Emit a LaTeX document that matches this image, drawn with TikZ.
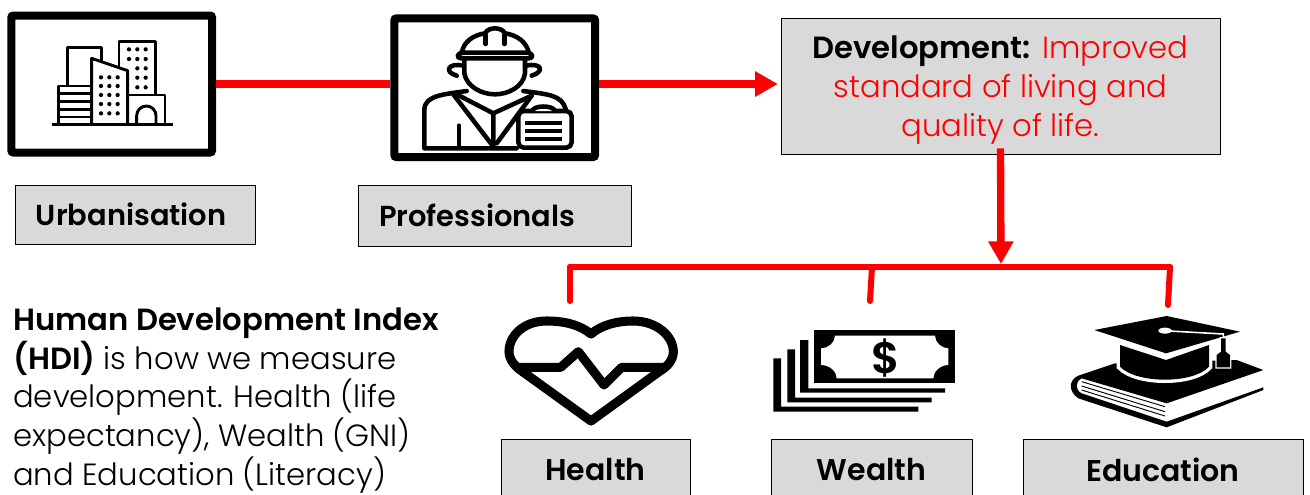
\documentclass[tikz,border=0pt]{standalone}
\usepackage{fontspec}
\setmainfont{Poppins}[UprightFont=* Light,BoldFont=* SemiBold]
\usetikzlibrary{arrows.meta}
\definecolor{boxgray}{HTML}{D9D9D9}
\definecolor{linkred}{HTML}{FF0000}
\newcommand{\bodyfont}{\fontsize{23pt}{29pt}\selectfont}
\newcommand{\labelfont}{\fontsize{21.7pt}{29pt}\selectfont\bfseries}
\newcommand{\lowerlabelfont}{\fontsize{22.5pt}{29pt}\selectfont\bfseries}
\tikzset{
  framebox/.style={draw=black,line width=6pt,rounded corners=1.5pt,fill=white,inner sep=0pt},
  graybox/.style={draw=black,line width=0.7pt,fill=boxgray,inner sep=0pt},
  labelbox/.style={graybox,font=\labelfont},
  lowerbox/.style={graybox,font=\lowerlabelfont},
  redlink/.style={draw=linkred,line width=6pt},
  redarrow/.style={draw=linkred,line width=6pt,-{Triangle[length=17pt,width=18pt]}},
  redbar/.style={draw=linkred,line width=4.5pt,line cap=round},
  iconline/.style={draw=black,line width=2.2pt,line join=round},
  workerline/.style={draw=black,line width=3.4pt,line join=round,line cap=round},
  heartline/.style={draw=black,line width=6.8pt,line join=round},
}
\begin{document}
\begin{tikzpicture}[x=0.75pt,y=-0.75pt]
\useasboundingbox (0,0) rectangle (1310,494);

% frames
\node[framebox,minimum width=150.5pt,minimum height=102.75pt] (urbframe) at (111.7,84) {};
\node[framebox,minimum width=150.5pt,minimum height=104pt] (proframe) at (494.7,87.7) {};

% development box
\node[graybox,minimum width=329.3pt,minimum height=102pt,align=center,font=\bodyfont] (dev) at (1000.5,86)
  {\rule{0pt}{23pt}\textbf{Development:} \textcolor{linkred}{Improved}\\\textcolor{linkred}{standard of living and}\\\textcolor{linkred}{quality of life.}};

% connectors
\draw[redlink] (urbframe.east) -- (proframe.west |- urbframe.east);
\draw[redarrow,shorten >=2pt] (proframe.east |- urbframe.east) -- (dev.west |- urbframe.east);
\coordinate (barL) at (570,267);
\coordinate (barM) at (872,267);
\coordinate (barR) at (1170,267);
\coordinate (dropL) at (570,301);
\coordinate (dropM) at (870,301);
\coordinate (dropR) at (1168,305);
\draw[redbar] (barL) -- (barR);
\draw[redbar] (barL) -- (dropL);
\draw[redbar] (barM) -- (dropM);
\draw[redbar] (barR) -- (dropR);
\coordinate (devdrop) at (1001,264);
\draw[redarrow,line width=5.5pt] ([yshift=4.5pt]dev.south) -- (devdrop);

% labels
\node[labelbox,minimum height=44.2pt,text width=180pt-31.5pt,inner xsep=15.75pt,align=left] (urb) at (135,214.5) {Urbanisation};
\node[labelbox,minimum height=45.7pt,text width=204.75pt-31.5pt,inner xsep=15.75pt,align=left] (pro) at (494.5,215.5) {Professionals};
\node[lowerbox,minimum width=141.7pt,minimum height=46pt] (health) at (595.5,470) {Health};
\node[lowerbox,minimum width=150.7pt,minimum height=46pt] (wealth) at (871.5,470) {Wealth};
\node[lowerbox,minimum width=210pt,minimum height=46pt] (edu) at (1163,470) {Education};

% HDI text
\node[anchor=north west,inner sep=0pt,align=left,font=\bodyfont] (hdi) at (13,307.5)
  {\textbf{Human Development Index}\\\textbf{(HDI)} is how we measure\\development. Health (life\\expectancy), Wealth (GNI)\\and Education (Literacy)};

% buildings icon
\begin{scope}[shift={(0,0)},x=.25pt,y=-.25pt]
\draw[iconline] (155,373) -- (518,373);
\draw[iconline] (203,255) -- (203,142) -- (305,142) -- (305,185);
\draw[iconline] (357,205) -- (357,125) -- (467,125) -- (467,285);
\draw[iconline] (275,373) -- (275,175) -- (383,212) -- (383,373);
\draw[iconline] (275,258) -- (175,258) -- (175,373);
\foreach \yy in {281,305,328,351} \draw[iconline] (175,\yy) -- (275,\yy);
\draw[iconline] (383,285) -- (495,285) -- (495,373);
\draw[iconline] (410,373) -- (410,347) arc[start angle=180,end angle=360,radius=29] -- (468,373);
\foreach \xx in {303,328,353} \foreach \yy in {232,258,285,312,340} \fill (\xx,\yy) circle[radius=1.6pt];
\foreach \xx in {387,412,437} \foreach \yy in {148,177} \fill (\xx,\yy) circle[radius=1.6pt];
\foreach \xx in {412,437} \foreach \yy in {205,233,262} \fill (\xx,\yy) circle[radius=1.6pt];
\end{scope}

% worker icon
\begin{scope}[shift={(385,5)},x=.25pt,y=-.25pt]
\draw[workerline] (230,145) .. controls (235,110) and (265,90) .. (300,85) .. controls (310,65) and (350,65) .. (360,85) .. controls (395,90) and (425,110) .. (432,145);
\draw[workerline] (228,143) -- (432,143) .. controls (445,150) and (445,158) .. (432,160) -- (228,160) .. controls (215,158) and (215,150) .. (228,143) -- cycle;
\draw[workerline] (302,90) -- (302,117);
\draw[workerline] (358,90) -- (358,117);
\draw[workerline] (238,165) -- (238,205) .. controls (245,245) and (290,268) .. (330,268) .. controls (370,268) and (415,245) .. (420,205) -- (420,165);
\draw[workerline] (235,182) .. controls (190,172) and (175,200) .. (215,212);
\draw[workerline] (423,182) .. controls (470,172) and (480,200) .. (440,212);
\draw[workerline] (245,258) .. controls (180,268) and (118,270) .. (118,315) -- (118,430) -- (395,430);
\draw[workerline] (415,258) .. controls (490,268) and (530,270) .. (542,312);
\draw[workerline] (205,268) -- (325,425) -- (325,325);
\draw[workerline] (215,268) -- (325,325) -- (440,272);
\draw[workerline] (440,272) -- (335,415);
\draw[workerline] (222,362) -- (222,425);
\draw[workerline,rounded corners=4pt,fill=white] (400,318) rectangle (560,428);
\draw[workerline,fill=white] (442,318) .. controls (445,300) and (505,300) .. (510,318);
\foreach \yy in {353,378,403} \draw[draw=black,line width=3pt] (420,\yy) -- (530,\yy);
\end{scope}

% heart icon
\begin{scope}[shift={(490,310)},x=.25pt,y=-.25pt]
\draw[heartline] (303,72) .. controls (270,45) and (225,33) .. (170,33) .. controls (100,33) and (57,78) .. (57,125) .. controls (57,150) and (78,172) .. (95,183) -- (303,333) -- (510,183) .. controls (532,170) and (550,150) .. (550,125) .. controls (550,78) and (500,33) .. (430,33) .. controls (380,33) and (335,45) .. (303,72) -- cycle;
\draw[heartline] (85,172) -- (212,172) -- (265,125) -- (342,225) -- (395,172) -- (520,172);
\end{scope}

% money icon
\begin{scope}[shift={(765,320)},x=.25pt,y=-.25pt]
\fill (147,30) rectangle (570,190);
\fill[white] (210,47) -- (510,47) .. controls (510,68) and (530,85) .. (550,85) -- (550,135) .. controls (525,135) and (505,155) .. (505,175) -- (215,175) .. controls (215,155) and (195,135) .. (168,135) -- (168,85) .. controls (190,85) and (210,68) .. (210,47) -- cycle;
\node[font=\fontsize{33pt}{33pt}\selectfont\bfseries,inner sep=0pt] (dollar) at (362,113) {\$};
\fill (105,60) -- (130,60) -- (130,205) -- (540,205) -- (540,218) -- (105,218) -- cycle;
\fill (67,88) -- (90,88) -- (90,233) -- (500,233) -- (500,247) -- (67,247) -- cycle;
\fill (25,115) -- (48,115) -- (48,260) -- (460,260) -- (460,275) -- (25,275) -- cycle;
\end{scope}

% education icon
\begin{scope}[shift={(1060,310)},x=.25pt,y=-.25pt]
\fill (165,160) -- (55,197) .. controls (25,210) and (25,245) .. (55,265) -- (320,352) -- (610,240) -- (610,232) -- (320,335) -- (65,250) .. controls (45,240) and (45,215) .. (65,205) -- (320,280) -- (610,180) -- (530,150) -- cycle;
\foreach \yy/\zz in {215/290,228/305,240/318} \draw[draw=black,line width=.7pt] (65,\yy) -- (315,\zz);
\fill[preaction={draw=white,line width=5pt}] (180,105) -- (318,150) -- (447,105) -- (447,170) .. controls (400,222) and (230,222) .. (180,170) -- cycle;
\fill[preaction={draw=white,line width=3pt}] (103,60) -- (320,18) -- (540,65) -- (318,130) -- cycle;
\draw[draw=white,line width=1.2pt] (310,62) -- (490,72) -- (490,84);
\fill[white] (315,62) ellipse[x radius=20,y radius=9];
\fill[preaction={draw=white,line width=2pt}] (483,85) -- (497,85) -- (497,125) -- (510,135) -- (510,172) -- (470,172) -- (470,135) -- (483,125) -- cycle;
\end{scope}
\end{tikzpicture}
\end{document}
